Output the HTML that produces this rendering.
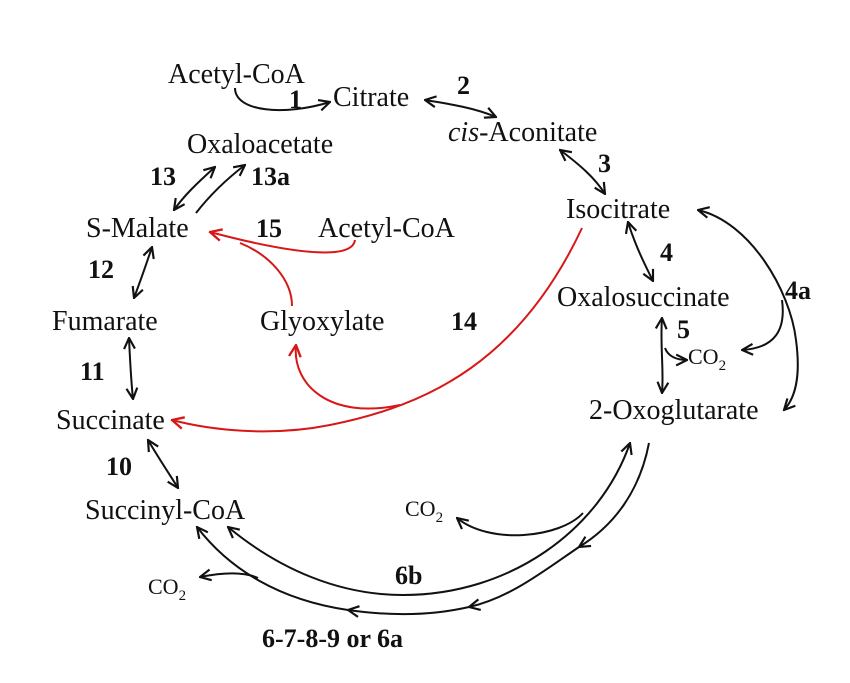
<!DOCTYPE html>
<html><head><meta charset="utf-8"><style>
body{margin:0;background:#fff}
svg{display:block}
text{font-family:"Liberation Serif",serif;font-size:28px;fill:#111}
.b{font-weight:bold;font-size:26px}
.c{font-size:22px}
</style></head><body>
<svg width="850" height="683" viewBox="0 0 850 683">
<defs>
<marker id="a" viewBox="0 0 12 12" refX="11" refY="6" markerWidth="13" markerHeight="13" markerUnits="userSpaceOnUse" orient="auto-start-reverse"><path d="M1,1 L11,6 L1,11" fill="none" stroke="#111" stroke-width="2"/></marker>
<marker id="r" viewBox="0 0 12 12" refX="11" refY="6" markerWidth="14" markerHeight="14" markerUnits="userSpaceOnUse" orient="auto-start-reverse"><path d="M1,1 L11,6 L1,11" fill="none" stroke="#d81818" stroke-width="2"/></marker>
</defs>
<g fill="none" stroke="#111" stroke-width="2">
<path d="M235,88 C235,112 285,116 330,102" marker-end="url(#a)"/>
<path d="M425,100 C450,104 475,108 496,117" marker-start="url(#a)" marker-end="url(#a)"/>
<path d="M560,150 C580,165 595,178 605,194" marker-start="url(#a)" marker-end="url(#a)"/>
<path d="M628,222 C635,245 645,265 653,281" marker-start="url(#a)" marker-end="url(#a)"/>
<path d="M662,318 C660,345 664,370 662,393" marker-start="url(#a)" marker-end="url(#a)"/>
<path d="M665,348 C668,356 676,360 687,360" marker-end="url(#a)"/>
<path d="M698,210 C750,222 790,290 796,340 C800,370 798,395 784,410" marker-start="url(#a)" marker-end="url(#a)"/>
<path d="M782,300 C786,330 775,348 742,350" marker-end="url(#a)"/>
<path d="M215,167 C195,185 183,197 174,210" marker-start="url(#a)" marker-end="url(#a)"/>
<path d="M196,213 C210,195 228,178 245,165" marker-end="url(#a)"/>
<path d="M152,247 C146,265 140,282 134,298" marker-start="url(#a)" marker-end="url(#a)"/>
<path d="M129,338 C130,360 131,380 133,399" marker-start="url(#a)" marker-end="url(#a)"/>
<path d="M148,440 C158,457 168,472 178,488" marker-start="url(#a)" marker-end="url(#a)"/>
<path d="M228,527 C280,570 340,595 403,595 C510,595 600,530 630,443" marker-start="url(#a)" marker-end="url(#a)"/>
<path d="M649,443 C640,490 615,525 579,547" marker-end="url(#a)"/>
<path d="M579,547 C545,570 510,598 469,607" marker-end="url(#a)"/>
<path d="M469,607 C430,616 390,616 348,610" marker-end="url(#a)"/>
<path d="M348,610 C280,600 230,570 197,527" marker-end="url(#a)"/>
<path d="M583,513 C560,538 490,545 457,518" marker-end="url(#a)"/>
<path d="M258,578 C245,572 225,572 200,577" marker-end="url(#a)"/>
</g>
<g fill="none" stroke="#d81818" stroke-width="2">
<path d="M355,240 C352,262 285,252 210,232" marker-end="url(#r)"/>
<path d="M292,306 C292,280 270,255 240,243"/>
<path d="M582,228 C520,360 430,405 330,425 C270,437 210,430 172,420" marker-end="url(#r)"/>
<path d="M400,405 C330,420 292,385 296,345" marker-end="url(#r)"/>
</g>
<text x="168" y="83">Acetyl-CoA</text>
<text x="289" y="108" class="b">1</text>
<text x="333" y="106">Citrate</text>
<text x="457" y="94" class="b">2</text>
<text x="448" y="141"><tspan font-style="italic">cis</tspan>-Aconitate</text>
<text x="598" y="172" class="b">3</text>
<text x="566" y="218">Isocitrate</text>
<text x="660" y="261" class="b">4</text>
<text x="557" y="306">Oxalosuccinate</text>
<text x="785" y="299" class="b">4a</text>
<text x="677" y="338" class="b">5</text>
<text x="688" y="364" class="c">CO<tspan dy="6" style="font-size:15px">2</tspan></text>
<text x="589" y="419">2-Oxoglutarate</text>
<text x="187" y="153">Oxaloacetate</text>
<text x="150" y="185" class="b">13</text>
<text x="251" y="185" class="b">13a</text>
<text x="86" y="237">S-Malate</text>
<text x="256" y="237" class="b">15</text>
<text x="318" y="237">Acetyl-CoA</text>
<text x="88" y="278" class="b">12</text>
<text x="52" y="330">Fumarate</text>
<text x="260" y="330">Glyoxylate</text>
<text x="451" y="330" class="b">14</text>
<text x="80" y="380" class="b">11</text>
<text x="56" y="429">Succinate</text>
<text x="106" y="475" class="b">10</text>
<text x="85" y="519">Succinyl-CoA</text>
<text x="405" y="516" class="c">CO<tspan dy="6" style="font-size:15px">2</tspan></text>
<text x="395" y="584" class="b">6b</text>
<text x="148" y="594" class="c">CO<tspan dy="6" style="font-size:15px">2</tspan></text>
<text x="262" y="647" class="b">6-7-8-9 or 6a</text>
</svg>
</body></html>
